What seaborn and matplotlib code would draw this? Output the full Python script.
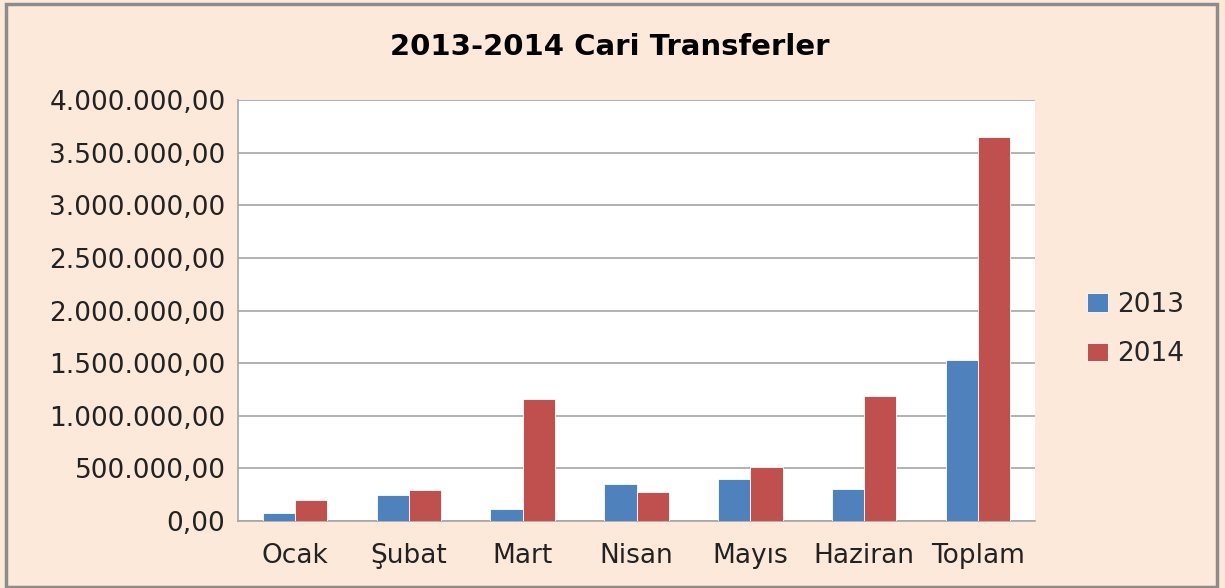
import numpy as np
import pandas as pd
import matplotlib
matplotlib.use("Agg")
import matplotlib.pyplot as plt
import seaborn as sns
from matplotlib.patches import Rectangle
from matplotlib.ticker import FuncFormatter, MultipleLocator

# data
months = ['Ocak', 'Şubat', 'Mart', 'Nisan', 'Mayıs', 'Haziran', 'Toplam']
values_2013 = [76000, 247000, 114000, 348000, 398000, 300000, 1530000]
values_2014 = [199000, 297000, 1157000, 272000, 509000, 1186000, 3649000]
years = ['2013', '2014']

df = pd.DataFrame({
    'ay': months * 2,
    'yil': [years[0]] * len(months) + [years[1]] * len(months),
    'deger': values_2013 + values_2014,
})

bg = '#FDE9D9'
sns.set_style('white')
plt.rcParams['font.family'] = ['DejaVu Sans']

fig = plt.figure(figsize=(12.25, 5.88), dpi=100)
fig.patch.set_facecolor(bg)
ax = fig.add_axes([238 / 1225, 1 - 521 / 588, (1035 - 238) / 1225, (521 - 100) / 588])
ax.set_facecolor('white')

sns.barplot(data=df, x='ay', y='deger', hue='yil', order=months, hue_order=years,
            palette=['#4F81BD', '#C0504D'], width=0.565, saturation=1,
            edgecolor='white', linewidth=0.6, ax=ax, zorder=3)

ax.set_ylim(0, 4000000)
ax.yaxis.set_major_locator(MultipleLocator(500000))

def tr_fmt(v, pos):
    s = f'{v:,.2f}'
    return s.replace(',', 'X').replace('.', ',').replace('X', '.')

ax.yaxis.set_major_formatter(FuncFormatter(tr_fmt))
ax.grid(axis='y', color='#A6A6A6', linewidth=1.2, zorder=0)
ax.set_axisbelow(True)
ax.set_xlabel('')
ax.set_ylabel('')
for side in ['top', 'right']:
    ax.spines[side].set_visible(False)
for side in ['left', 'bottom']:
    ax.spines[side].set_color('#A6A6A6')
    ax.spines[side].set_linewidth(1.2)
ax.tick_params(axis='y', labelsize=19, colors='#222222', length=0, pad=9)
ax.tick_params(axis='x', labelsize=19, colors='#222222', length=0, pad=16)

ax.legend(loc='center left', bbox_to_anchor=(1.035, 0.455), frameon=False,
          fontsize=19, handlelength=0.8, handleheight=0.7, labelspacing=0.9,
          handletextpad=0.35)

fig.text(0.498, 1 - 47 / 588, '2013-2014 Cari Transferler', ha='center', va='center',
         fontsize=21, fontweight='bold', color='black')

fig.patches.append(Rectangle((6 / 1225, 1 / 588), 1211 / 1225, 583 / 588,
                             transform=fig.transFigure, fill=False,
                             edgecolor='#8C8C8C', linewidth=2.5))

fig.savefig('out.png', dpi=100, facecolor=bg)
